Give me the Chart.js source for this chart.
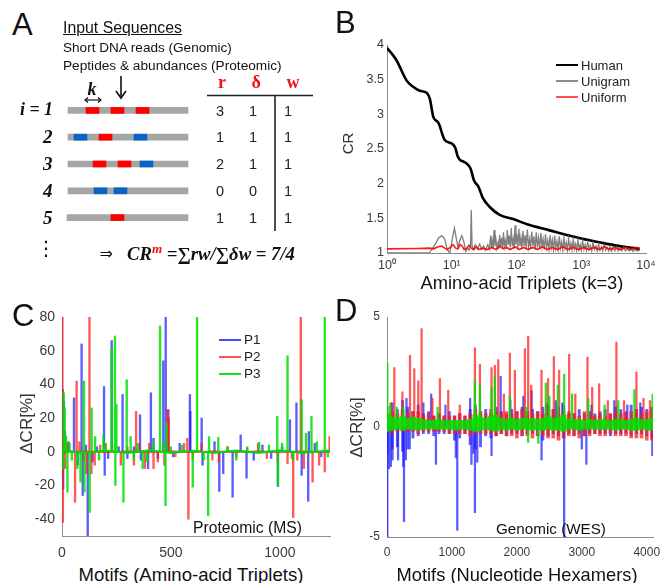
<!DOCTYPE html>
<html>
<head>
<meta charset="utf-8">
<script src="https://cdn.jsdelivr.net/npm/chart.js@4.4.1/dist/chart.umd.min.js"></script>
<style>
  body { margin: 0; background: #fff; }
  #fig { position: relative; width: 662px; height: 583px; overflow: hidden;
         font-family: "Liberation Sans", Arial, sans-serif; color: #111; }
  .t { position: absolute; white-space: nowrap; line-height: 1; }
  canvas { position: absolute; }
  .lg { position: absolute; }
</style>
</head>
<body>
<div id="fig">
  <svg id="diagA" width="330" height="290" style="position:absolute;left:0;top:0">
    <!-- down arrow -->
    <line x1="121" y1="76" x2="121" y2="98" stroke="#111" stroke-width="1.6"/>
    <polyline points="116,91 121,98 126,91" fill="none" stroke="#111" stroke-width="1.6"/>
    <!-- k double arrow -->
    <line x1="85" y1="100" x2="101" y2="100" stroke="#111" stroke-width="1.2"/>
    <polyline points="88,97.5 85,100 88,102.5" fill="none" stroke="#111" stroke-width="1.2"/>
    <polyline points="98,97.5 101,100 98,102.5" fill="none" stroke="#111" stroke-width="1.2"/>
    <!-- table rules -->
    <line x1="207" y1="95.5" x2="313" y2="95.5" stroke="#222" stroke-width="1.6"/>
    <line x1="275" y1="96" x2="275" y2="231" stroke="#222" stroke-width="1.6"/>
  </svg>
  <canvas id="seqA" width="124" height="134" style="left:66px;top:97px"></canvas>
  <canvas id="chartB" width="332" height="250" style="left:330px;top:30px"></canvas>
  <canvas id="chartC" width="340" height="270" style="left:0px;top:290px"></canvas>
  <canvas id="chartD" width="332" height="270" style="left:330px;top:290px"></canvas>
</div>
<script>
// ---------- Panel A: example reads ----------
const seqRows = ['1', '2', '3', '4', '5'];
const seqStart = [0, 0, 0, 0, -1];
const seqEnd = [120, 120, 120, 120, 120];
const redSegs = [['1', 18, 31], ['1', 43, 56], ['1', 68, 81], ['2', 31, 44],
                 ['3', 25, 38], ['3', 50, 63], ['5', 43, 56]];
const blueSegs = [['2', 6, 19], ['2', 66, 79], ['3', 72, 85], ['4', 26, 39], ['4', 46, 59]];
const rVals = [3, 1, 2, 0, 1];
const deltaVals = [1, 1, 1, 0, 1];
const wVals = [1, 1, 1, 1, 1];

// ---------- Panel B: CR vs amino-acid triplets, [n, CR] ----------
const human = [[1, 3.96], [1.4, 3.78], [2, 3.49], [2.5, 3.40], [3.2, 3.34], [4.1, 3.31], [4.6, 3.22],
               [5.2, 2.96], [6.2, 2.88], [7.8, 2.63], [10, 2.58], [11.3, 2.52], [12.3, 2.40],
               [13.5, 2.34], [15, 2.32], [17, 2.29], [19.5, 2.22], [22, 2.05], [25.7, 1.96],
               [30, 1.80], [39, 1.66], [55, 1.55], [89, 1.49], [150, 1.41], [316, 1.33],
               [600, 1.26], [1000, 1.21], [2000, 1.15], [3300, 1.11], [5500, 1.08], [8000, 1.06]];
const unigram = [[1, 1.0], [4.5, 1.0], [5.5, 1.12], [6.3, 1.22], [7, 1.25], [7.8, 1.2], [8.5, 1.05],
  [9.3, 1.0], [10.2, 1.2], [11, 1.36], [11.8, 1.2], [12.5, 1.08], [13.3, 1.18], [14.3, 1.25],
  [15.3, 1.17], [16.5, 1.02], [17.5, 1.07], [18.5, 1.04], [19.5, 1.1], [20, 1.62], [20.6, 1.1],
  [21.5, 1.05], [23, 1.12], [25, 1.06], [27, 1.13], [29, 1.05], [31, 1.1], [33, 1.04], [36, 1.12],
  [38, 1.06], [40, 1.25], [41, 1.08], [42, 1.18], [43.5, 1.06], [45, 1.33], [46.5, 1.1], [48, 1.2],
  [50, 1.07], [52, 1.15], [53.5, 1.06], [55, 1.26], [57, 1.09], [59, 1.22], [61, 1.07], [63, 1.3],
  [65, 1.1], [67, 1.18], [70, 1.06], [72, 1.33], [75, 1.12], [77, 1.25], [80, 1.08], [83, 1.36],
  [86, 1.1], [89, 1.2], [92, 1.06], [95, 1.4], [98, 1.12], [101, 1.28], [105, 1.07], [109, 1.35],
  [113, 1.1], [117, 1.22], [121, 1.06], [126, 1.32], [131, 1.1], [136, 1.26], [141, 1.07],
  [147, 1.34], [153, 1.09], [159, 1.2], [165, 1.06], [172, 1.31], [179, 1.1], [186, 1.24],
  [194, 1.05], [202, 1.3], [210, 1.08], [219, 1.22], [228, 1.06], [238, 1.29], [248, 1.09],
  [258, 1.2], [269, 1.05], [280, 1.27], [292, 1.08], [304, 1.18], [317, 1.05], [330, 1.26],
  [344, 1.08], [358, 1.19], [373, 1.05], [389, 1.25], [405, 1.07], [422, 1.17], [440, 1.05],
  [458, 1.24], [477, 1.07], [497, 1.16], [518, 1.04], [540, 1.22], [563, 1.07], [587, 1.15],
  [612, 1.04], [638, 1.21], [665, 1.06], [693, 1.14], [722, 1.04], [752, 1.2], [784, 1.06],
  [817, 1.13], [851, 1.04], [887, 1.19], [924, 1.05], [963, 1.12], [1000, 1.04], [1050, 1.18],
  [1100, 1.05], [1150, 1.12], [1200, 1.04], [1260, 1.16], [1320, 1.05], [1380, 1.11], [1450, 1.03],
  [1520, 1.15], [1600, 1.05], [1680, 1.1], [1760, 1.03], [1850, 1.13], [1950, 1.04], [2050, 1.09],
  [2150, 1.03], [2260, 1.12], [2380, 1.04], [2500, 1.08], [2650, 1.03], [2800, 1.1], [2950, 1.03],
  [3100, 1.08], [3300, 1.03], [3500, 1.09], [3700, 1.03], [3900, 1.07], [4200, 1.03], [4500, 1.08],
  [4800, 1.03], [5100, 1.06], [5500, 1.03], [5900, 1.06], [6300, 1.02], [6800, 1.05], [7300, 1.03],
  [8000, 1.04]];
const uniform = [[1, 1.06], [3, 1.065], [4.5, 1.07], [5.2, 1.06], [6.2, 1.09], [7, 1.1], [7.8, 1.07],
  [8.5, 1.05], [9.5, 1.08], [10.5, 1.12], [11.5, 1.07], [12.5, 1.06], [13.5, 1.12], [14.5, 1.1],
  [15.5, 1.05], [17, 1.07], [18.5, 1.11], [20, 1.07], [22, 1.05], [24, 1.09], [26, 1.05], [30, 1.07],
  [35, 1.05], [42, 1.08], [48, 1.05], [55, 1.1], [62, 1.06], [70, 1.08], [80, 1.05], [95, 1.09],
  [110, 1.05], [130, 1.08], [150, 1.05], [180, 1.08], [210, 1.05], [250, 1.09], [300, 1.05],
  [360, 1.08], [430, 1.05], [520, 1.09], [620, 1.05], [750, 1.08], [900, 1.05], [1100, 1.08],
  [1300, 1.05], [1600, 1.08], [1900, 1.05], [2300, 1.09], [2800, 1.05], [3300, 1.08], [4000, 1.05],
  [4800, 1.08], [5800, 1.05], [7000, 1.08], [8000, 1.06]];
const tickB_X = [1, 10, 100, 1000, 10000];
const tickB_Y = [1, 1.5, 2, 2.5, 3, 3.5, 4];

// ---------- Panel C: proteomic delta CR, [motif, value] ----------
const p1C = [[3, 37], [5, -22], [9, 30], [14, 12], [30, 6], [55, 32], [72, -8], [90, 64], [95, -26],
             [110, 4], [118, -50], [140, -6], [160, 3], [193, 38.7], [196, -14], [212, -4],
             [228, 66], [260, 3], [278, 34], [300, -4], [330, 3], [358, 22], [362, -5], [395, -10],
             [408, 35], [420, 8], [440, -4], [465, 54], [476, 80], [488, 25], [510, -3], [540, 5],
             [587, 34], [589, 24], [641, 20], [645, -8], [700, 6], [722, -23.5], [740, -13],
             [783, -27], [820, 10], [847, -15.6], [880, -5], [920, 4], [960, -4], [991, -20.6],
             [1010, 3], [1046, 19], [1076, 29], [1100, -14], [1130, -29.4], [1133, 12],
             [1160, 5], [1190, -3]];
const p2C = [[2, 80], [4, -42], [8, 10], [15, -10], [25, 5], [60, -30], [67, 42], [80, 6], [100, -6],
             [112, -13], [126, 80], [135, -13], [150, -8], [175, 4], [200, 5], [230, 4], [270, -8],
             [300, 3], [330, -8], [340, 24], [355, 5], [380, -10], [400, 5], [420, -10], [440, -6],
             [470, -8], [484, 25], [490, 20], [520, -3], [560, 5], [575, 8], [580, -40], [600, -5],
             [640, 5], [690, -5], [720, -6], [760, 3], [800, -3], [850, 2], [900, 5], [940, -4],
             [990, -6], [1035, -7], [1055, -4], [1061, -39], [1080, -5], [1096, 80], [1110, -10],
             [1150, -18], [1180, -8], [1206, -12], [1228, 9]];
const p3C = [[6, -10], [8, 35], [12, 26], [19, 9], [25, -24], [35, 5], [45, -5], [70, -10], [85, -18],
             [101, 42], [103, -24], [127, -36], [136, 26], [152, 9], [170, -5], [190, 10], [200, 4],
             [228, 61.6], [243, 68.7], [245, -20], [250, 28], [282, -30], [297, 42.7], [315, 9],
             [330, -5], [345, 5], [370, -10], [390, -6], [420, 6], [450, 74.7], [465, 5],
             [475, -32], [480, 17], [500, 3], [550, 4], [600, -21], [620, 80], [650, -5],
             [671, -38], [675, 9], [717, 8.6], [760, 3], [800, -5], [850, 3], [905, 5.6], [950, 4],
             [988, 21], [991, -20], [1010, 5], [1035, 57], [1060, -5], [1100, 31], [1120, 11],
             [1145, 21], [1170, 6], [1206, 80], [1220, -3]];
// near-zero trace between the spikes
const baseC_X = [0, 100, 200, 300, 400, 500, 600, 700, 800, 900, 1000, 1100, 1230];
const p1BaseC = [0.6, -0.4, 0.5, -0.5, 0.4, -0.4, 0.5, -0.4, 0.4, -0.5, 0.4, -0.5, 0.4];
const p2BaseC = [-0.5, 0.4, -0.4, 0.5, -0.5, 0.4, -0.4, 0.5, -0.4, 0.4, -0.5, 0.4, -0.4];
const p3BaseC = [0.8, -0.6, 0.7, -0.6, 0.8, -0.7, 0.6, -0.6, 0.7, -0.6, 0.8, -0.6, 0.7];
const tickC_X = [0, 500, 1000];
const tickC_Y = [-40, -20, 0, 20, 40, 60, 80];

// ---------- Panel D: genomic delta CR ----------
const bandPosD = [0, 80, 160, 240, 320, 400, 480, 560, 640, 720, 800, 880, 960, 1040, 1120, 1200,
                  1280, 1360, 1440, 1520, 1600, 1680, 1760, 1840, 1920, 2000, 2080, 2160, 2240,
                  2320, 2400, 2480, 2560, 2640, 2720, 2800, 2880, 2960, 3040, 3120, 3200, 3280,
                  3360, 3440, 3520, 3600, 3680, 3760, 3840, 3920, 4000, 4080];
const p1HiD = [0.9, 1.1, 0.8, 1.2, 0.9, 0.7, 1.0, 0.6, 0.7, 0.5, 0.6, 0.5, 0.7, 0.5, 0.6, 0.5, 0.8,
               1.0, 0.7, 0.8, 0.6, 0.9, 0.7, 0.6, 0.8, 0.7, 0.9, 0.6, 0.8, 0.7, 0.9, 1.0, 0.8, 0.9,
               1.0, 0.7, 0.6, 0.8, 0.6, 0.7, 0.6, 0.7, 0.8, 0.6, 0.9, 0.8, 0.7, 1.0, 0.8, 0.9, 0.8,
               0.9];
const p1LoD = [-1.2, -1.0, -0.9, -1.1, -1.0, -0.5, -0.4, -0.3, -0.3, -0.4, -0.3, -0.3, -0.3, -0.6,
               -0.5, -0.3, -0.8, -1.0, -0.9, -0.4, -0.5, -0.4, -0.3, -0.4, -0.3, -0.3, -0.4, -0.3,
               -0.3, -0.4, -0.6, -0.4, -0.3, -0.4, -0.5, -0.3, -0.4, -0.3, -0.4, -0.3, -0.3, -0.3,
               -0.3, -0.4, -0.3, -0.3, -0.3, -0.4, -0.3, -0.3, -0.4, -0.5];
const p2HiD = [0.6, 0.7, 0.6, 0.8, 0.6, 0.7, 0.7, 0.5, 0.6, 0.5, 0.6, 0.5, 0.5, 0.5, 0.6, 0.5, 0.6,
               0.8, 0.7, 0.6, 0.8, 0.7, 0.6, 0.7, 0.6, 0.7, 0.8, 0.7, 0.6, 0.7, 0.6, 0.7, 0.8, 0.6,
               0.7, 0.6, 0.6, 0.5, 0.7, 0.6, 0.5, 0.6, 0.5, 0.6, 0.7, 0.6, 0.6, 0.7, 0.8, 0.6, 0.7,
               0.8];
const p2LoD = [-0.2, -0.3, -0.2, -0.2, -0.2, -0.2, -0.3, -0.2, -0.2, -0.2, -0.2, -0.2, -0.3, -0.3,
               -0.3, -0.3, -0.4, -0.3, -0.3, -0.3, -0.3, -0.4, -0.3, -0.4, -0.4, -0.5, -0.4, -0.4,
               -0.5, -0.4, -0.4, -0.5, -0.5, -0.6, -0.5, -0.4, -0.4, -0.5, -0.4, -0.4, -0.3, -0.4,
               -0.4, -0.3, -0.4, -0.4, -0.4, -0.5, -0.5, -0.5, -0.6, -0.6];
const p3HiD = [0.6, 0.45, 0.4, 0.5, 0.4, 0.45, 0.4, 0.35, 0.3, 0.3, 0.35, 0.3, 0.3, 0.3, 0.3, 0.3,
               0.35, 0.55, 0.45, 0.4, 0.5, 0.55, 0.4, 0.35, 0.4, 0.35, 0.4, 0.35, 0.4, 0.35, 0.4,
               0.5, 0.4, 0.45, 0.55, 0.35, 0.35, 0.35, 0.3, 0.35, 0.3, 0.35, 0.3, 0.3, 0.35, 0.35,
               0.3, 0.35, 0.4, 0.35, 0.35, 0.4];
const p3LoD = [-0.2, -0.15, -0.1, -0.15, -0.1, -0.1, -0.15, -0.1, -0.1, -0.1, -0.1, -0.1, -0.1,
               -0.15, -0.1, -0.1, -0.15, -0.2, -0.15, -0.1, -0.15, -0.2, -0.1, -0.15, -0.1, -0.15,
               -0.1, -0.1, -0.15, -0.1, -0.15, -0.1, -0.15, -0.15, -0.2, -0.1, -0.1, -0.15, -0.1,
               -0.1, -0.1, -0.1, -0.1, -0.1, -0.15, -0.1, -0.1, -0.15, -0.15, -0.1, -0.15, -0.15];
const p1SpikeD = [[5, -5], [30, -1.9], [60, -1.8], [85, -1.5], [170, -1.5], [250, -1.8], [262, -4.3],
                  [290, -1.5], [300, 1.3], [350, -1.0], [560, 1.1], [680, 1.5], [754, -1.7],
                  [900, 1.0], [1060, -1.4], [1082, -4.7], [1280, 1.3], [1300, -1.7], [1330, -1.2],
                  [1354, -3.9], [1390, -1.6], [1610, -1.3], [1750, 2.3], [1900, 1.2], [2100, 1.4],
                  [2226, 1.65], [2380, -1.5], [2450, 1.1], [2600, 1.2], [2700, 1.1], [2728, -5],
                  [3000, -1.0], [3070, -1.7], [3150, 1.0], [3500, 1.2], [3700, 1.0], [3900, 1.1],
                  [4085, -1.3]];
const p2SpikeD = [[60, 1.1], [113, 2.7], [237, 1.6], [354, 3.26], [420, 2.65], [482, 2.1],
                  [533, 4.47], [700, 1.3], [815, 2.2], [943, 1.67], [1120, 1.0], [1354, 3.6],
                  [1431, 2.85], [1610, 2.7], [1662, 2.8], [1713, 3.06], [1800, 1.5], [1892, 3.36],
                  [1969, 2.58], [2123, 3.56], [2174, 4.12], [2220, 1.9], [2379, 2.58], [2480, 2.2],
                  [2569, 3.2], [2651, 2.58], [2805, 3.3], [2900, 1.5], [3087, 3.18], [3160, 1.8],
                  [3267, 1.97], [3400, 1.2], [3533, 3.86], [3650, 1.2], [3841, 2.5], [3950, 1.3],
                  [4050, 1.2]];
const p3SpikeD = [[5, 2.9], [50, 1.0], [150, 0.9], [250, 0.9], [780, 0.9], [1354, 2.1], [1431, 1.9],
                  [1610, 1.8], [1662, 2.3], [1892, 1.4], [2150, 0.9], [2174, -0.7], [2330, -0.75],
                  [2446, 2.0], [2500, 1.4], [2631, 1.9], [2728, 2.4], [2850, 1.5], [3100, 1.3],
                  [3350, 1.0], [3560, 1.2], [3810, 1.7], [4090, 1.5]];
const tickD_X = [0, 1000, 2000, 3000, 4000];
const tickD_Y = [-5, 0, 5];

// ---------- helpers ----------
const fig = document.getElementById('fig');
const SANS = '"Liberation Sans", Arial, sans-serif';
const SERIF = '"Liberation Serif", "Times New Roman", serif';
const tickColor = '#3a3a3a';
const axisColor = '#8c8c8c';
const BLUE = 'rgba(30,30,255,0.72)';
const RED = 'rgba(255,25,25,0.72)';
const GREEN = 'rgba(0,225,0,0.85)';

function addText(html, x, y, o = {}) {
  const el = document.createElement('div');
  el.className = 't';
  el.innerHTML = html;
  const size = o.size || 14;
  el.style.fontSize = size + 'px';
  el.style.fontFamily = o.font || SANS;
  if (o.weight) el.style.fontWeight = o.weight;
  if (o.italic) el.style.fontStyle = 'italic';
  if (o.color) el.style.color = o.color;
  if (o.underline) el.style.textDecoration = 'underline';
  fig.appendChild(el);
  if (o.fitW) {
    const w0 = el.getBoundingClientRect().width;
    el.style.fontSize = (size * o.fitW / w0) + 'px';
  }
  const w = el.offsetWidth, h = el.offsetHeight;
  const ax = o.align === 'center' ? w / 2 : o.align === 'right' ? w : 0;
  el.style.left = (x - ax) + 'px';
  el.style.top = (y - h / 2) + 'px';
  if (o.rotate) el.style.transform = 'rotate(-90deg)';
  return el;
}

function legendLine(x1, x2, y, color, width) {
  const d = document.createElement('div');
  d.className = 'lg';
  d.style.left = x1 + 'px';
  d.style.width = (x2 - x1) + 'px';
  d.style.top = (y - width / 2) + 'px';
  d.style.height = width + 'px';
  d.style.background = color;
  fig.appendChild(d);
}

const toXY = arr => arr.map(p => ({ x: p[0], y: p[1] }));
const zipXY = (xs, ys) => xs.map((x, i) => ({ x: x, y: ys[i] }));
const bandXY = (lo, hi) => bandPosD.map((x, i) => ({ x: x, y: [lo[i], hi[i]] }));

// fix axis box size so the plot area lands where the figure has it
function fixBox(w, h) {
  return function (scale) {
    if (w != null) scale.width = w;
    if (h != null) scale.height = h;
    scale.paddingLeft = 0; scale.paddingRight = 0;
    scale.paddingTop = 0; scale.paddingBottom = 0;
  };
}
function setTicks(values) {
  return function (scale) { scale.ticks = values.map(v => ({ value: v })); };
}
const plainNum = v => String(v);
function axis(extra, fontSize, pad, fmt) {
  return Object.assign({
    grid: { drawOnChartArea: false, drawTicks: false },
    border: { display: true, color: axisColor, width: 1 },
    ticks: { color: tickColor, font: { family: SANS, size: fontSize }, padding: pad,
             maxRotation: 0, autoSkip: false, callback: fmt || plainNum }
  }, extra);
}
const noPlugins = { legend: { display: false }, tooltip: { enabled: false } };

// ---------- Panel A ----------
addText('A', 12, 24, { size: 31 });
addText('Input Sequences', 63, 28, { size: 14, fitW: 119, underline: true });
addText('Short DNA reads (Genomic)', 63, 48, { size: 14, fitW: 169 });
addText('Peptides &amp; abundances (Proteomic)', 63, 66, { size: 14, fitW: 219 });
addText('k', 92, 89, { size: 18, font: SERIF, weight: 'bold', italic: true, align: 'center' });
addText('r', 222, 82, { size: 18, font: SERIF, weight: 'bold', color: '#ee1111', align: 'center' });
addText('δ', 256, 82, { size: 18, font: SERIF, weight: 'bold', color: '#ee1111', align: 'center' });
addText('w', 293, 82, { size: 18, font: SERIF, weight: 'bold', color: '#ee1111', align: 'center' });
const rowY = [111, 137, 164, 191, 218];
seqRows.forEach((r, i) => {
  const lbl = i === 0 ? 'i = 1' : r;
  addText(lbl, 53, rowY[i] - 1, { size: 19, font: SERIF, weight: 'bold', italic: true, align: 'right',
                                   fitW: i === 0 ? 33 : undefined });
  addText(String(rVals[i]), 220, rowY[i], { size: 14.5, align: 'center', color: '#222' });
  addText(String(deltaVals[i]), 253, rowY[i], { size: 14.5, align: 'center', color: '#222' });
  addText(String(wVals[i]), 288, rowY[i], { size: 14.5, align: 'center', color: '#222' });
});
addText('⋮', 46, 248, { size: 20, font: '"DejaVu Sans", sans-serif', align: 'center' });
addText('⇒', 106, 254, { size: 16, font: '"DejaVu Sans", sans-serif', align: 'center' });
addText('CR<span style="color:#ee1111;font-size:70%;position:relative;top:-7px">m</span> =∑<i>rw</i>/∑δ<i>w</i> = 7/4',
        127, 254, { size: 17, font: SERIF, weight: 'bold', italic: true, fitW: 168 });

new Chart(document.getElementById('seqA'), {
  type: 'bar',
  data: {
    labels: seqRows,
    datasets: [
      { data: redSegs.map(s => ({ y: s[0], x: [s[1], s[2]] })), backgroundColor: '#ff0000', order: 0 },
      { data: blueSegs.map(s => ({ y: s[0], x: [s[1], s[2]] })), backgroundColor: '#0a64c8', order: 0 },
      { data: seqRows.map((r, i) => ({ y: r, x: [seqStart[i], seqEnd[i]] })), backgroundColor: '#a6a6a6', order: 1 }
    ]
  },
  options: {
    indexAxis: 'y', responsive: false, animation: false,
    layout: { padding: 0 },
    datasets: { bar: { barThickness: 6, grouped: false, borderWidth: 0 } },
    plugins: noPlugins,
    scales: {
      x: { type: 'linear', min: -2, max: 122, display: false },
      y: { type: 'category', display: false, offset: true }
    }
  }
});

// ---------- Panel B ----------
addText('B', 335, 22, { size: 31 });
addText('CR', 348, 143, { size: 15, color: '#333', align: 'center', rotate: true });
addText('Amino-acid Triplets (k=3)', 522, 283, { size: 17, align: 'center', fitW: 203 });
legendLine(556, 578, 65, '#000', 2.5);
legendLine(556, 578, 81, 'rgba(120,120,120,0.85)', 1.5);
legendLine(556, 578, 97, 'rgba(255,60,60,0.9)', 1.5);
addText('Human', 581, 65, { size: 13, color: '#222' });
addText('Unigram', 581, 81, { size: 13, color: '#222' });
addText('Uniform', 581, 97, { size: 13, color: '#222' });

const supDigits = ['⁰', '¹', '²', '³', '⁴'];
const powerOfTen = v => '10' + supDigits[Math.round(Math.log10(v))];
new Chart(document.getElementById('chartB'), {
  type: 'line',
  data: {
    datasets: [
      { data: toXY(uniform), borderColor: 'rgba(255,0,0,0.9)', borderWidth: 1.6, pointRadius: 0, order: 0 },
      { data: toXY(unigram), borderColor: 'rgba(105,105,105,0.85)', borderWidth: 1.3, pointRadius: 0, order: 1 },
      { data: toXY(human), borderColor: '#000', borderWidth: 2.6, pointRadius: 0,
        cubicInterpolationMode: 'monotone', order: 2 }
    ]
  },
  options: {
    responsive: false, animation: false,
    layout: { padding: { left: 0, top: 15, right: 16, bottom: 0 } },
    plugins: noPlugins,
    scales: {
      x: axis({ type: 'logarithmic', min: 1, max: 10000,
                afterBuildTicks: setTicks(tickB_X), afterFit: fixBox(null, 27) }, 12.5, 5, powerOfTen),
      y: axis({ type: 'linear', min: 1, max: 4,
                afterBuildTicks: setTicks(tickB_Y), afterFit: fixBox(57, null) }, 12.5, 3)
    }
  }
});

// ---------- Panel C ----------
addText('C', 12, 315, { size: 31 });
addText('ΔCR[%]', 26, 423, { size: 17, color: '#333', align: 'center', rotate: true });
addText('Motifs (Amino-acid Triplets)', 191, 575, { size: 18, align: 'center', fitW: 225 });
addText('Proteomic (MS)', 193, 528, { size: 15, fitW: 109 });
legendLine(219, 241, 340, 'rgba(40,40,255,0.85)', 2);
legendLine(219, 241, 357, 'rgba(255,40,40,0.8)', 2);
legendLine(219, 241, 374, 'rgba(0,225,0,0.9)', 2);
addText('P1', 244, 340, { size: 13.5, color: '#222' });
addText('P2', 244, 357, { size: 13.5, color: '#222' });
addText('P3', 244, 374, { size: 13.5, color: '#222' });

function spikeSet(data, color, order, thick) {
  return { type: 'bar', data: data, backgroundColor: color, borderWidth: 0, barThickness: thick,
           grouped: false, order: order };
}
function traceSet(data, color, order, width) {
  return { type: 'line', data: data, borderColor: color, borderWidth: width, pointRadius: 0, order: order };
}

new Chart(document.getElementById('chartC'), {
  type: 'bar',
  data: {
    datasets: [
      spikeSet(toXY(p3C), GREEN, 0, 1.7),
      traceSet(zipXY(baseC_X, p3BaseC), GREEN, 0, 2.2),
      spikeSet(toXY(p2C), RED, 1, 1.7),
      traceSet(zipXY(baseC_X, p2BaseC), RED, 1, 1.5),
      spikeSet(toXY(p1C), BLUE, 2, 1.7),
      traceSet(zipXY(baseC_X, p1BaseC), BLUE, 2, 1.5)
    ]
  },
  options: {
    responsive: false, animation: false,
    layout: { padding: { left: 0, top: 27, right: 10, bottom: 0 } },
    plugins: noPlugins,
    scales: {
      x: axis({ type: 'linear', min: 0, max: 1230, offset: false,
                afterBuildTicks: setTicks(tickC_X), afterFit: fixBox(null, 24) }, 14, 9),
      y: axis({ type: 'linear', min: -50, max: 80,
                afterBuildTicks: setTicks(tickC_Y), afterFit: fixBox(62, null) }, 14, 7)
    }
  }
});

// ---------- Panel D ----------
addText('D', 335, 310, { size: 31 });
addText('ΔCR[%]', 356, 427, { size: 17, color: '#333', align: 'center', rotate: true });
addText('Motifs (Nucleotide Hexamers)', 517, 575, { size: 18, align: 'center', fitW: 241 });

function bandSet(lo, hi, color, order, thick) {
  return { type: 'bar', data: bandXY(lo, hi), backgroundColor: color, borderWidth: 0,
           barThickness: thick, grouped: false, order: order };
}

new Chart(document.getElementById('chartD'), {
  type: 'bar',
  data: {
    datasets: [
      bandSet(p3LoD, p3HiD, GREEN, 0, 5.3),
      spikeSet(toXY(p3SpikeD), GREEN, 0, 1.6),
      bandSet(p2LoD, p2HiD, RED, 1, 3),
      spikeSet(toXY(p2SpikeD), RED, 1, 1.6),
      bandSet(p1LoD, p1HiD, BLUE, 2, 2.2),
      spikeSet(toXY(p1SpikeD), BLUE, 2, 1.6)
    ]
  },
  options: {
    responsive: false, animation: false,
    layout: { padding: { left: 0, top: 27, right: 9, bottom: 0 } },
    plugins: noPlugins,
    scales: {
      x: axis({ type: 'linear', min: 0, max: 4096, offset: false,
                afterBuildTicks: setTicks(tickD_X), afterFit: fixBox(null, 23) }, 12, 8),
      y: axis({ type: 'linear', min: -5, max: 5,
                afterBuildTicks: setTicks(tickD_Y), afterFit: fixBox(57, null) }, 12, 7)
    }
  }
});
addText('Genomic (WES)', 496, 528, { size: 15, fitW: 110 });
</script>
</body>
</html>
